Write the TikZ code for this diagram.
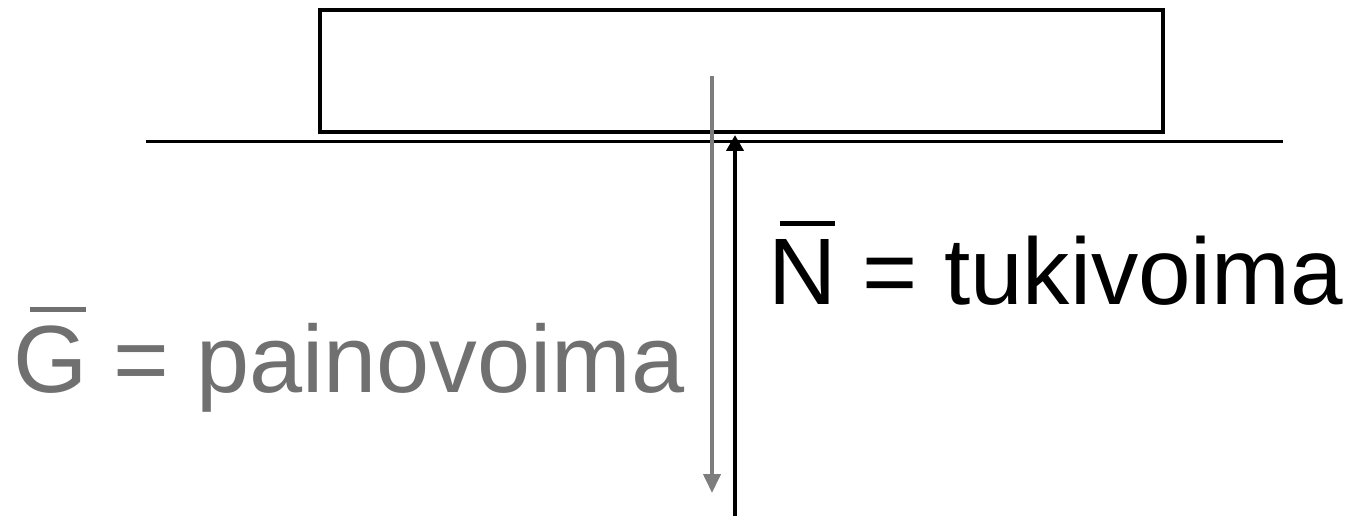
\documentclass[tikz,border=0pt]{standalone}
\usepackage{fontspec}
\setmainfont{Liberation Sans}
\usetikzlibrary{arrows.meta}
\definecolor{gtext}{RGB}{112,112,112}
\definecolor{garrow}{RGB}{125,125,125}
\newcommand\vecbar[1]{\setbox0\hbox{#1}\rlap{\hbox to \wd0{\hss\rule[0.84em]{0.58em}{0.045em}\hskip0.02em}}\box0\relax}
\tikzset{
  lbl/.style={anchor=base west, inner sep=0pt},
  force/.style={line width=4pt},
}
\begin{document}
\begin{tikzpicture}[x=1pt,y=-1pt]
\useasboundingbox (0,0) rectangle (1354,518);
\fill[white] (0,0) rectangle (1354,518);
% body
\draw[line width=4pt] (320,10) rectangle (1163,132);
% ground
\coordinate (gl) at (146,142);
\coordinate (gr) at (1283,142);
\draw[line width=3pt] (gl) -- (gr);
% weight
\coordinate (gtop) at (712,76);
\coordinate (gbot) at (712,493);
\draw[force, garrow, -{Triangle[length=19pt,width=17pt]}] (gtop) -- (gbot);
% normal force
\coordinate (nbot) at (735,516);
\coordinate (ntop) at (735,135);
\draw[force, black, -{Triangle[length=16pt,width=17pt]}] (nbot) -- (ntop);
% labels
\node[lbl, text=black, font=\fontsize{94.5}{100}\selectfont] (nl) at (768,305) {\vecbar{N} = tukivoima};
\node[lbl, text=gtext, font=\fontsize{95.5}{100}\selectfont] (glbl) at (13,392) {\vecbar{G} = painovoima};
\end{tikzpicture}
\end{document}
